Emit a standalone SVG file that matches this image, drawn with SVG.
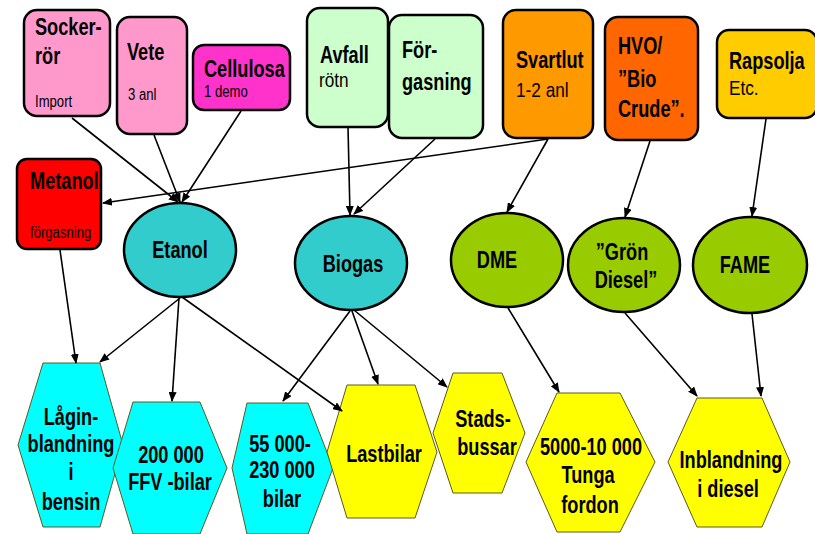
<svg xmlns="http://www.w3.org/2000/svg" width="815" height="534" viewBox="0 0 815 534">
<defs>
<marker id="ah" markerWidth="10" markerHeight="8" refX="9" refY="4" orient="auto" markerUnits="userSpaceOnUse">
<path d="M0,0 L10,4 L0,8 z" fill="#000"/>
</marker>
<style>
.box{stroke:#000;stroke-width:2.5}
.ell{stroke:#000;stroke-width:2.5}
.hex{stroke:#5a5a20;stroke-width:1}
.b{font-family:"Liberation Sans",Arial,sans-serif;font-weight:bold;font-size:23px;fill:#000}
.m{font-family:"Liberation Sans",Arial,sans-serif;font-size:21px;fill:#000}
.s{font-family:"Liberation Sans",Arial,sans-serif;font-size:16px;fill:#000}
.c{text-anchor:middle}
.e{stroke:#000;stroke-width:1.6;fill:none;marker-end:url(#ah)}
</style>
</defs>
<rect width="815" height="534" fill="#fff"/>
<g id="sockerror"><rect class="box" x="24" y="10" width="86" height="106" rx="13" fill="#ff99cc"/><text class="b" transform="translate(35 35) scale(0.79 1)">Socker-</text><text class="b" transform="translate(35 64) scale(0.79 1)">rör</text><text class="s" transform="translate(35 107) scale(0.82 1)">Import</text></g>
<g id="vete"><rect class="box" x="117" y="17" width="70" height="117" rx="13" fill="#ff99cc"/><text class="b" transform="translate(127 60) scale(0.79 1)">Vete</text><text class="s" transform="translate(128 100) scale(0.82 1)">3 anl</text></g>
<g id="cellulosa"><rect class="box" x="193" y="45" width="97" height="65" rx="11" fill="#ff33cc"/><text class="b" transform="translate(204 77) scale(0.79 1)">Cellulosa</text><text class="s" transform="translate(204 97) scale(0.82 1)">1 demo</text></g>
<g id="avfall"><rect class="box" x="307" y="8" width="81" height="119" rx="13" fill="#ccffcc"/><text class="b" transform="translate(320 63) scale(0.79 1)">Avfall</text><text class="m" transform="translate(319 87) scale(0.82 1)">rötn</text></g>
<g id="forgasning"><rect class="box" x="389" y="15" width="94" height="123" rx="13" fill="#ccffcc"/><text class="b" transform="translate(402 58) scale(0.79 1)">För-</text><text class="b" transform="translate(402 90) scale(0.79 1)">gasning</text></g>
<g id="svartlut"><rect class="box" x="503" y="10" width="90" height="128" rx="13" fill="#ff9900"/><text class="b" transform="translate(516 68) scale(0.79 1)">Svartlut</text><text class="m" transform="translate(516 97) scale(0.82 1)">1-2 anl</text></g>
<g id="hvo"><rect class="box" x="605" y="17" width="93" height="123" rx="13" fill="#ff6600"/><text class="b" transform="translate(618 54) scale(0.79 1)">HVO/</text><text class="b" transform="translate(618 87) scale(0.79 1)">”Bio</text><text class="b" transform="translate(618 117) scale(0.79 1)">Crude”.</text></g>
<g id="rapsolja"><rect class="box" x="717" y="30" width="100" height="88" rx="12" fill="#ffcc00"/><text class="b" transform="translate(729 69) scale(0.79 1)">Rapsolja</text><text class="m" transform="translate(729 95) scale(0.82 1)">Etc.</text></g>
<g id="metanol"><rect class="box" x="17" y="159" width="84" height="90" rx="10" fill="#ff0000"/><text class="b" transform="translate(30 189) scale(0.79 1)">Metanol</text><text class="s" transform="translate(30 238) scale(0.82 1)">förgasning</text></g>
<g id="etanol"><ellipse class="ell" cx="180" cy="250" rx="56" ry="47" fill="#33cccc"/><text class="b c" transform="translate(180 258) scale(0.79 1)">Etanol</text></g>
<g id="biogas"><ellipse class="ell" cx="351" cy="263" rx="56" ry="47" fill="#33cccc"/><text class="b c" transform="translate(353 272) scale(0.79 1)">Biogas</text></g>
<g id="dme"><ellipse class="ell" cx="507" cy="260" rx="56" ry="47" fill="#99cc00"/><text class="b c" transform="translate(497 268) scale(0.79 1)">DME</text></g>
<g id="grondiesel"><ellipse class="ell" cx="624" cy="265" rx="56" ry="47" fill="#99cc00"/><text class="b c" transform="translate(622 260) scale(0.79 1)">”Grön</text><text class="b c" transform="translate(626 288) scale(0.79 1)">Diesel”</text></g>
<g id="fame"><ellipse class="ell" cx="750" cy="265" rx="57" ry="48" fill="#99cc00"/><text class="b c" transform="translate(745 273) scale(0.79 1)">FAME</text></g>
<g id="laginblandning"><polygon class="hex" points="43,363 100,363 123,445 100,527 43,527 18,445" fill="#00ffff"/><text class="b c" transform="translate(71 425) scale(0.79 1)">Lågin-</text><text class="b c" transform="translate(71 452) scale(0.79 1)">blandning</text><text class="b c" transform="translate(71 480) scale(0.79 1)">i</text><text class="b c" transform="translate(71 510) scale(0.79 1)">bensin</text></g>
<g id="ffvbilar"><polygon class="hex" points="133,402 200,402 227,468 200,534 133,534 113,468" fill="#00ffff"/><text class="b c" transform="translate(171 463) scale(0.79 1)">200 000</text><text class="b c" transform="translate(170 490) scale(0.79 1)">FFV -bilar</text></g>
<g id="bilar"><polygon class="hex" points="247,403 308,403 333,468 308,534 247,534 232,468" fill="#00ffff"/><text class="b c" transform="translate(280 452) scale(0.79 1)">55 000-</text><text class="b c" transform="translate(282 478) scale(0.79 1)">230 000</text><text class="b c" transform="translate(282 507) scale(0.79 1)">bilar</text></g>
<g id="lastbilar"><polygon class="hex" points="347,385 415,385 437,452 415,518 347,518 327,452" fill="#ffff00"/><text class="b c" transform="translate(384 462) scale(0.79 1)">Lastbilar</text></g>
<g id="stadsbussar"><polygon class="hex" points="453,373 502,373 525,433 502,493 453,493 433,433" fill="#ffff00"/><text class="b c" transform="translate(483 427) scale(0.79 1)">Stads-</text><text class="b c" transform="translate(487 455) scale(0.79 1)">bussar</text></g>
<g id="tungafordon"><polygon class="hex" points="557,393 620,393 655,462 620,532 557,532 526,462" fill="#ffff00"/><text class="b c" transform="translate(591 455) scale(0.79 1)">5000-10 000</text><text class="b c" transform="translate(588 483) scale(0.79 1)">Tunga</text><text class="b c" transform="translate(590 513) scale(0.79 1)">fordon</text></g>
<g id="inblandning"><polygon class="hex" points="697,398 762,398 790,462 762,527 697,527 668,462" fill="#ffff00"/><text class="b c" transform="translate(731 468) scale(0.79 1)">Inblandning</text><text class="b c" transform="translate(728 497) scale(0.79 1)">i diesel</text></g>
<g id="connectors">
<line class="e" x1="72" y1="118" x2="178" y2="202"/>
<line class="e" x1="154" y1="135" x2="180" y2="202"/>
<line class="e" x1="241" y1="111" x2="182" y2="202"/>
<line class="e" x1="548" y1="139" x2="103" y2="203"/>
<line class="e" x1="348" y1="127" x2="350" y2="215"/>
<line class="e" x1="435" y1="139" x2="354" y2="214"/>
<line class="e" x1="548" y1="139" x2="507" y2="212"/>
<line class="e" x1="650" y1="141" x2="625" y2="217"/>
<line class="e" x1="766" y1="119" x2="752" y2="216"/>
<line class="e" x1="60" y1="250" x2="76" y2="363"/>
<line class="e" x1="180" y1="298" x2="100" y2="362"/>
<line class="e" x1="179" y1="298" x2="172" y2="401"/>
<line class="e" x1="182" y1="297" x2="342" y2="411"/>
<line class="e" x1="350" y1="311" x2="283" y2="401"/>
<line class="e" x1="352" y1="311" x2="378" y2="384"/>
<line class="e" x1="354" y1="310" x2="447" y2="387"/>
<line class="e" x1="508" y1="308" x2="559" y2="392"/>
<line class="e" x1="625" y1="313" x2="697" y2="396"/>
<line class="e" x1="752" y1="314" x2="761" y2="396"/>
</g>
</svg>
